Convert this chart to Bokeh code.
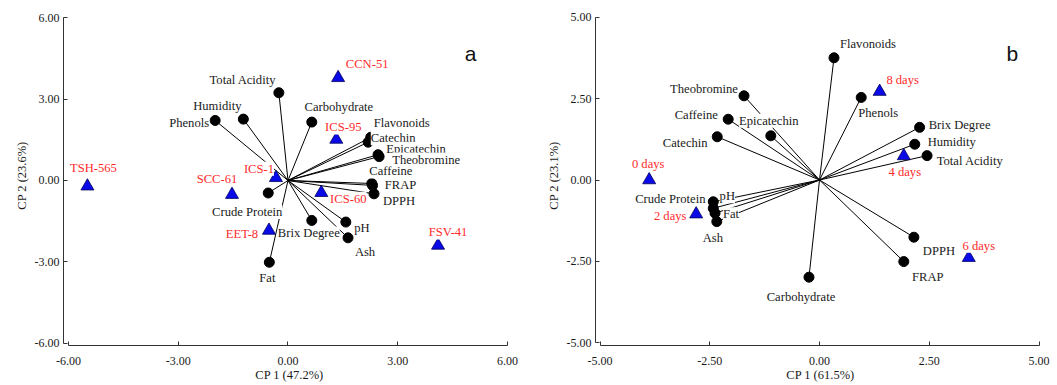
from bokeh.plotting import figure
from bokeh.models import ColumnDataSource, LabelSet, Label, Range1d, FixedTicker, NumeralTickFormatter
from bokeh.layouts import row
from bokeh.embed import file_html
from bokeh.resources import INLINE

# ---------------- Panel a data ----------------
a_vars = ["Total Acidity", "Humidity", "Phenols", "Carbohydrate", "Flavonoids", "Catechin",
          "Epicatechin", "Theobromine", "Caffeine", "FRAP", "DPPH", "Crude Protein",
          "Brix Degree", "pH", "Ash", "Fat"]
a_load_x = [-0.25, -1.22, -1.99, 0.65, 2.26, 2.19, 2.46, 2.49, 2.29, 2.31, 2.35, -0.54, 0.65, 1.58, 1.64, -0.51]
a_load_y = [3.23, 2.26, 2.21, 2.15, 1.59, 1.41, 0.95, 0.88, -0.11, -0.18, -0.49, -0.46, -1.47, -1.53, -2.11, -3.01]
a_samples = ["TSH-565", "SCC-61", "ICS-1", "EET-8", "CCN-51", "ICS-95", "ICS-60", "FSV-41"]
a_score_x = [-5.48, -1.53, -0.33, -0.52, 1.37, 1.32, 0.91, 4.10]
a_score_y = [-0.21, -0.52, 0.10, -1.84, 3.78, 1.51, -0.45, -2.39]
a_ticks = [-6, -3, 0, 3, 6]
a_xlabel = "CP 1 (47.2%)"
a_ylabel = "CP 2 (23.6%)"

# ---------------- Panel b data ----------------
b_vars = ["Flavonoids", "Theobromine", "Phenols", "Caffeine", "Epicatechin", "Catechin",
          "Brix Degree", "Humidity", "Total Acidity", "Crude Protein", "pH", "Fat", "Ash",
          "DPPH", "FRAP", "Carbohydrate"]
b_load_x = [0.33, -1.72, 0.95, -2.08, -1.11, -2.33, 2.28, 2.17, 2.45, -2.42, -2.42, -2.38, -2.34, 2.15, 1.92, -0.24]
b_load_y = [3.76, 2.59, 2.54, 1.87, 1.36, 1.33, 1.62, 1.10, 0.75, -0.67, -0.87, -1.02, -1.28, -1.76, -2.51, -2.99]
b_samples = ["0 days", "2 days", "4 days", "6 days", "8 days"]
b_score_x = [-3.88, -2.81, 1.92, 3.40, 1.37]
b_score_y = [0.00, -1.05, 0.74, -2.39, 2.72]
b_ticks = [-5, -2.5, 0, 2.5, 5]
b_xlabel = "CP 1 (61.5%)"
b_ylabel = "CP 2 (23.1%)"

# ---------------- label offsets (screen px, right / down) ----------------
a_var_dx = [-36, -26, -26, 27, 31, 25, 38, 47, 19, 28, 25, -21, -3, 16, 17, -2]
a_var_dy = [-13, -13, 3, -15, -14, -4, -6, 3, -12, 0, 7, 19, 13, 6, 14, 16]
a_smp_dx = [6, -15, -17, -27, 29, 7, 27, 10]
a_smp_dy = [-18, -16, -9, 4, -14, -12, 6, -13]

b_var_dx = [34, -40, 17, -32, -2, -32, 40, 37, 43, -43, 14, 16, -4, 25, 24, -8]
b_var_dy = [-14, -7, 16, -4, -15, 6, -2, -2, 5, -3, -12, 1, 16, 14, 15, 20]
b_smp_dx = [-1, -26, 1, 10, 23]
b_smp_dy = [-16, 2, 16, -12, -12]

SERIF = "Liberation Serif"
RED = "#ff2b2b"
BLUE = "#0a0ae8"
INK = "#1a1a1a"


def make_panel(vars_, lx, ly, vdx, vdy, smp, sx, sy, sdx, sdy, ticks, xr, yr,
               xlab, ylab, letter, letter_xy, width, mbl, mbr):
    p = figure(width=width, height=385, x_range=Range1d(*xr), y_range=Range1d(*yr),
               output_backend="svg", toolbar_location=None,
               min_border_left=mbl, min_border_right=mbr, min_border_top=5, min_border_bottom=40)
    p.outline_line_color = None
    p.xgrid.visible = False
    p.ygrid.visible = False
    p.background_fill_color = "white"
    p.border_fill_color = "white"

    for ax, lab in ((p.xaxis[0], xlab), (p.yaxis[0], ylab)):
        ax.ticker = FixedTicker(ticks=ticks)
        ax.formatter = NumeralTickFormatter(format="0.00")
        ax.bounds = (ticks[0], ticks[-1])
        ax.axis_label = lab
        ax.axis_label_text_font = SERIF
        ax.axis_label_text_font_style = "normal"
        ax.axis_label_text_font_size = "12.5px"
        ax.axis_label_text_color = INK
        ax.major_label_text_font = SERIF
        ax.major_label_text_font_size = "12px"
        ax.major_label_text_color = INK
        ax.major_tick_in = 4
        ax.major_tick_out = 0
        ax.minor_tick_in = 0
        ax.minor_tick_out = 0
        ax.axis_line_color = "#333333"
        ax.major_tick_line_color = "#333333"
        ax.major_label_standoff = 4
    p.xaxis[0].major_label_standoff = 11
    p.xaxis[0].axis_label_standoff = 0
    p.yaxis[0].axis_label_standoff = 3

    lsrc = ColumnDataSource(dict(x=lx, y=ly, name=vars_, dx=vdx, dy=[-d for d in vdy],
                                 x0=[0] * len(lx), y0=[0] * len(ly)))
    ssrc = ColumnDataSource(dict(x=sx, y=sy, name=smp, dx=sdx, dy=[-d for d in sdy]))

    p.segment(x0="x0", y0="y0", x1="x", y1="y", source=lsrc, line_color="black", line_width=1)
    p.scatter("x", "y", source=lsrc, marker="circle", size=10, fill_color="black", line_color="black")
    p.scatter("x", "y", source=ssrc, marker="triangle", size=13, fill_color=BLUE, line_color="#00005a",
              line_width=0.8)

    p.add_layout(LabelSet(x="x", y="y", text="name", x_offset="dx", y_offset="dy", source=lsrc,
                          text_font=SERIF, text_font_size="12.6px", text_color=INK,
                          text_align="center", text_baseline="middle",
                          background_fill_color="white"))
    p.add_layout(LabelSet(x="x", y="y", text="name", x_offset="dx", y_offset="dy", source=ssrc,
                          text_font=SERIF, text_font_size="12.6px", text_color=RED,
                          text_align="center", text_baseline="middle",
                          background_fill_color="white"))
    p.add_layout(Label(x=letter_xy[0], y=letter_xy[1], text=letter, text_font="Liberation Sans",
                       text_font_size="21px", text_color="#111111", text_align="center",
                       text_baseline="middle"))
    return p


pa = make_panel(a_vars, a_load_x, a_load_y, a_var_dx, a_var_dy,
                a_samples, a_score_x, a_score_y, a_smp_dx, a_smp_dy,
                a_ticks, (-6.134, 6.216), (-6.074, 6.442), a_xlabel, a_ylabel, "a", (4.99, 4.67),
                527, 63, 12)
pb = make_panel(b_vars, b_load_x, b_load_y, b_var_dx, b_var_dy,
                b_samples, b_score_x, b_score_y, b_smp_dx, b_smp_dy,
                b_ticks, (-5.103, 5.148), (-5.092, 5.369), b_xlabel, b_ylabel, "b", (4.39, 3.89),
                530, 68, 12)

layout = row(pa, pb)
open("out.html", "w").write(file_html(layout, INLINE))
